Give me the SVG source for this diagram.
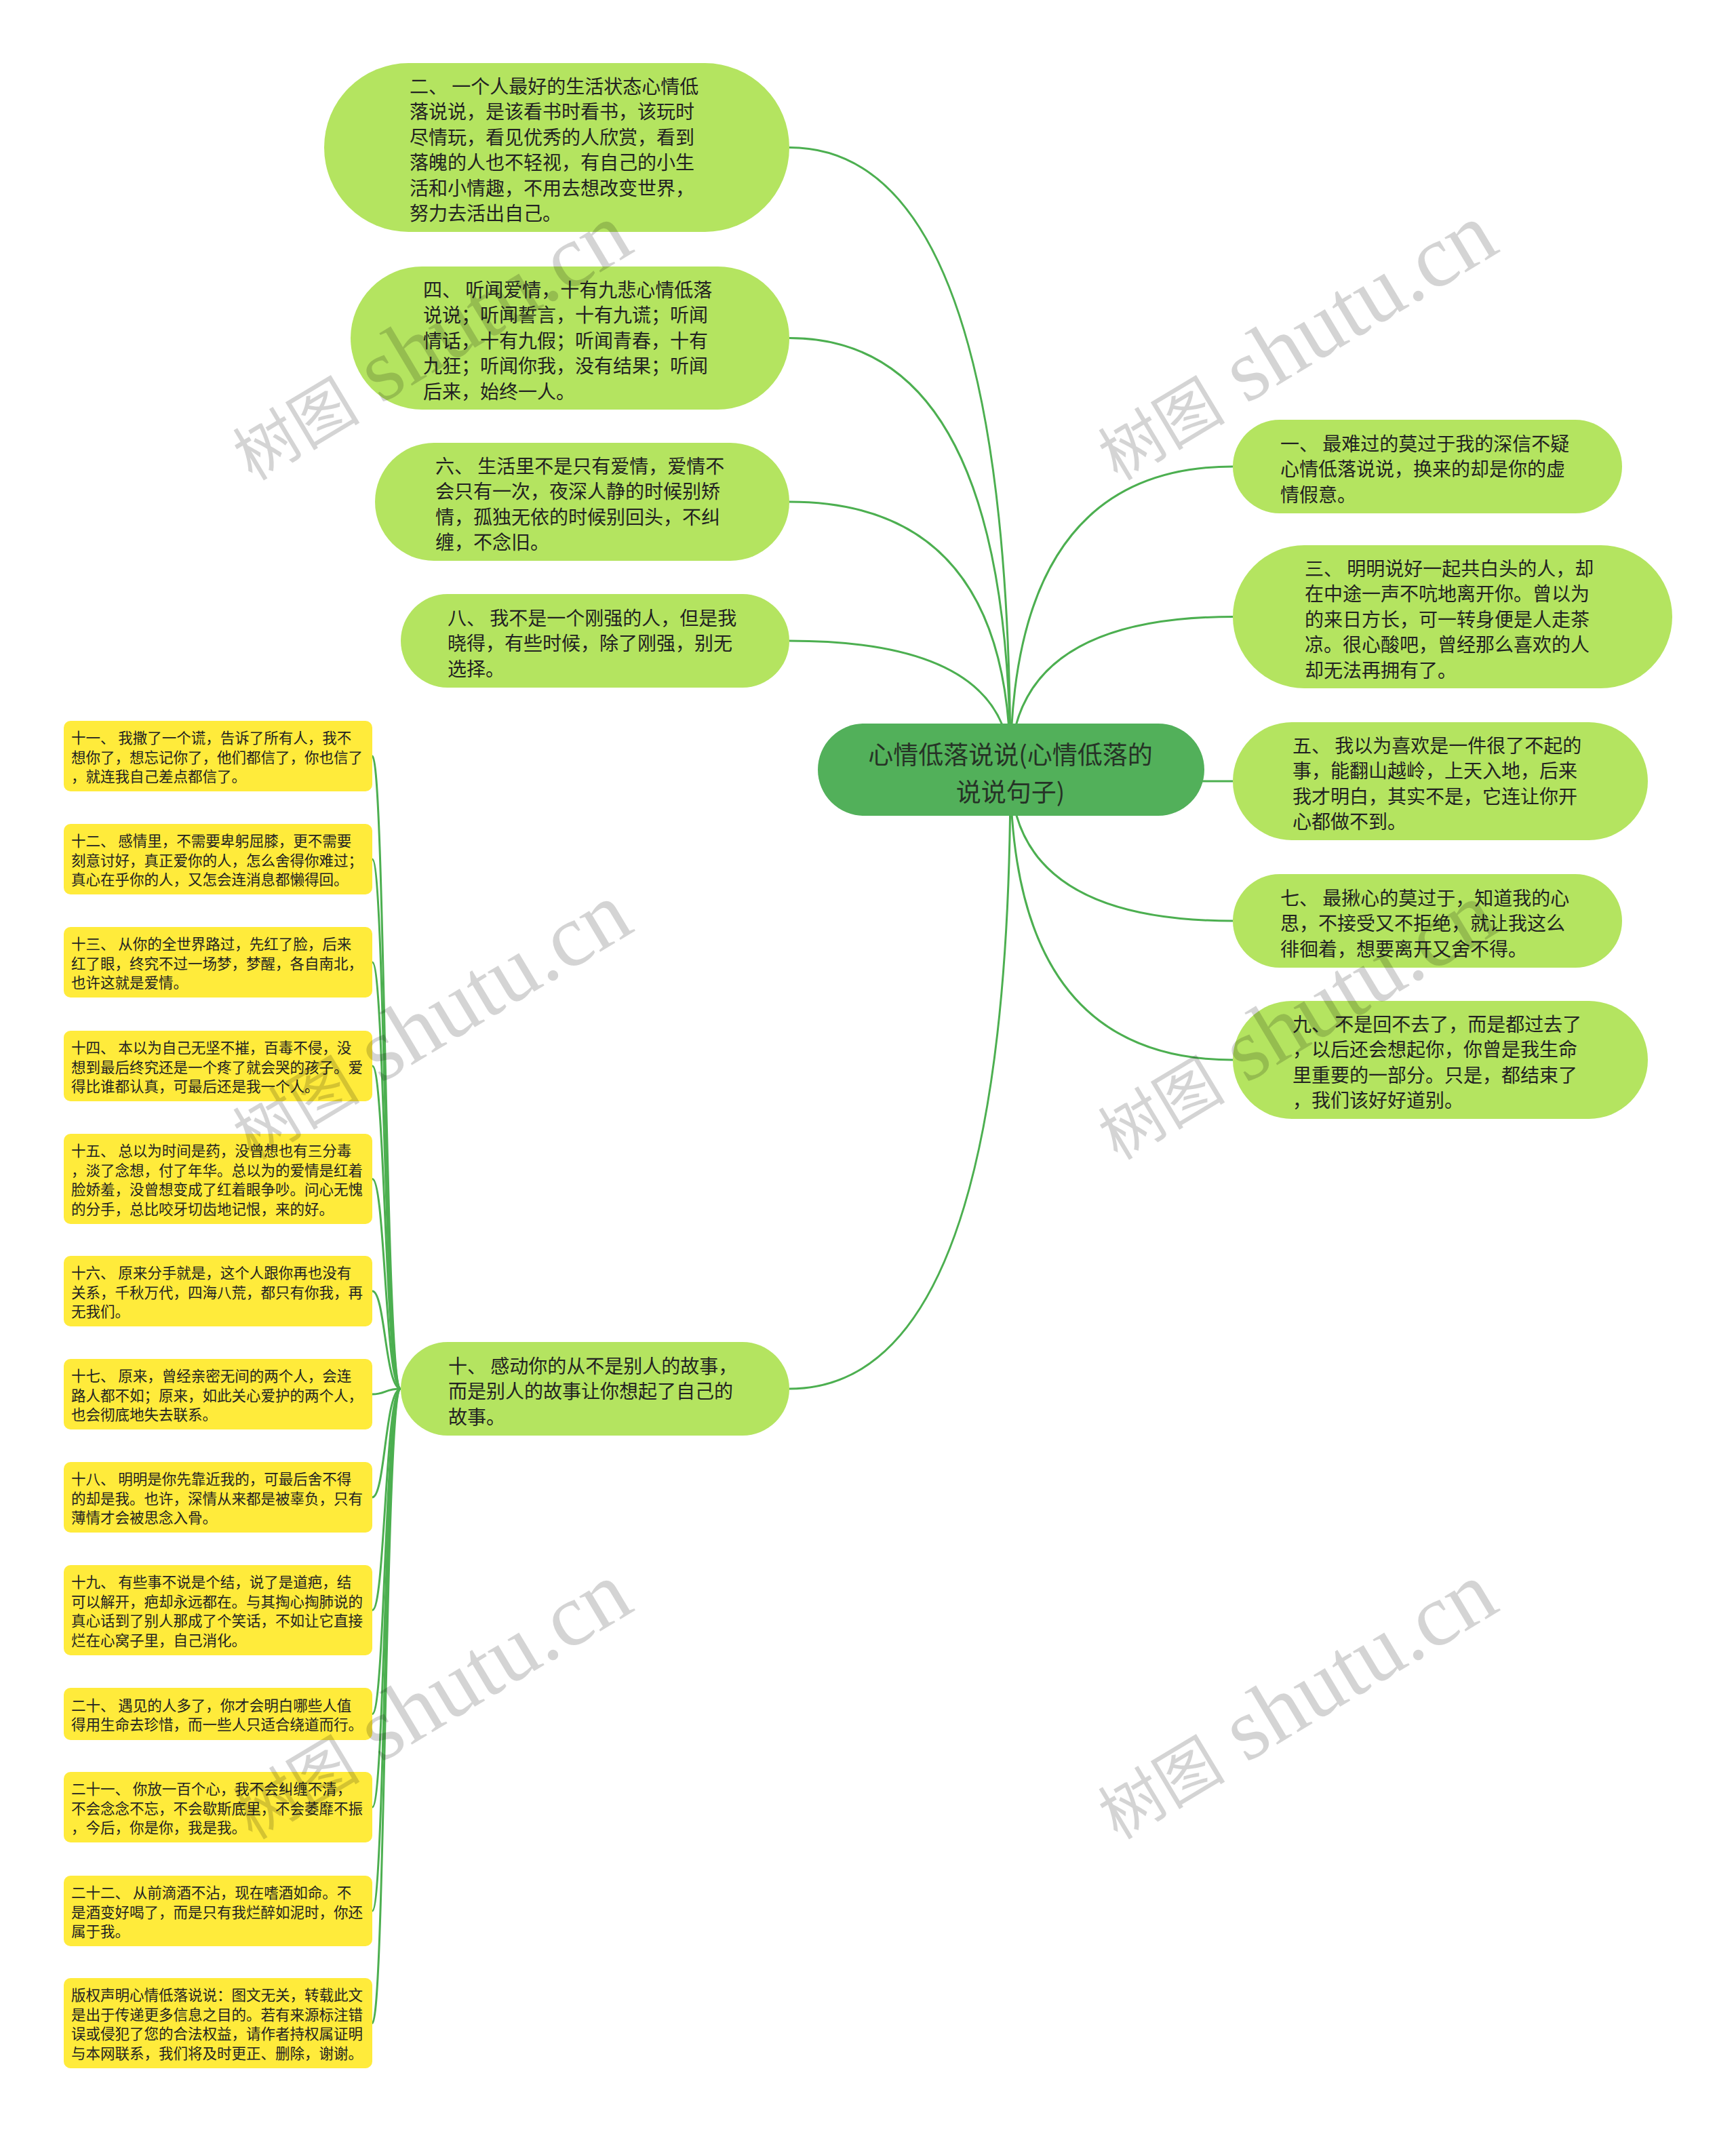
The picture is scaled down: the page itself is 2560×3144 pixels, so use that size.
<svg xmlns="http://www.w3.org/2000/svg" width="2560" height="3144" viewBox="0 0 2560 3144">
<style>
text{font-family:"Noto Sans CJK SC","Noto Sans",sans-serif;fill:#222}
.g rect{fill:#b4e460}
.g text{font-size:28px}
.y rect{fill:#ffeb3b}
.y text{font-size:21.5px}
.c rect{fill:#52b05a}
.c text{font-size:37px;fill:#263326}
.links path{fill:none;stroke:#4caf50;stroke-width:3}
.wm{fill:#000;fill-opacity:0.17}
.wm .cjk{font-family:"Noto Sans CJK SC",sans-serif;font-size:94px}
.wm .lat{font-family:"Liberation Serif",serif;font-size:131px}
</style>
<rect width="2560" height="3144" fill="#fff"/>
<g id="connectors" class="links">
<path d="M1490 1135 Q1490 217.5 1164 217.5"/>
<path d="M1490 1135 Q1490 498.5 1164 498.5"/>
<path d="M1490 1135 Q1490 740 1164 740"/>
<path d="M1490 1135 Q1490 945 1164 945"/>
<path d="M1490 1135 Q1490 2048 1164 2048"/>
<path d="M1490 1135 Q1490 688 1818 688"/>
<path d="M1490 1135 Q1490 909.5 1818 909.5"/>
<path d="M1490 1135 Q1490 1152 1818 1152"/>
<path d="M1490 1135 Q1490 1358 1818 1358"/>
<path d="M1490 1135 Q1490 1563 1818 1563"/>
<path d="M591 2048 C568 2048 568 1115 549 1115"/>
<path d="M591 2048 C568 2048 568 1267 549 1267"/>
<path d="M591 2048 C568 2048 568 1419 549 1419"/>
<path d="M591 2048 C568 2048 568 1572 549 1572"/>
<path d="M591 2048 C568 2048 568 1738.5 549 1738.5"/>
<path d="M591 2048 C568 2048 568 1904 549 1904"/>
<path d="M591 2048 C568 2048 568 2056 549 2056"/>
<path d="M591 2048 C568 2048 568 2208 549 2208"/>
<path d="M591 2048 C568 2048 568 2374.5 549 2374.5"/>
<path d="M591 2048 C568 2048 568 2527.5 549 2527.5"/>
<path d="M591 2048 C568 2048 568 2665 549 2665"/>
<path d="M591 2048 C568 2048 568 2818 549 2818"/>
<path d="M591 2048 C568 2048 568 2983.5 549 2983.5"/>
</g>
<g id="root" class="c">
<rect x="1206" y="1067" width="570" height="136" rx="68"/>
<text text-anchor="middle"><tspan x="1490" y="1127">心情低落说说(心情低落的</tspan><tspan x="1490" y="1182">说说句子)</tspan></text>
</g>
<g id="n2" class="g">
<rect x="478" y="93" width="686" height="249" rx="124.5"/>
<text><tspan x="604" y="137.75">二、 一个人最好的生活状态心情低</tspan><tspan x="604" y="175.25">落说说，是该看书时看书，该玩时</tspan><tspan x="604" y="212.75">尽情玩，看见优秀的人欣赏，看到</tspan><tspan x="604" y="250.25">落魄的人也不轻视，有自己的小生</tspan><tspan x="604" y="287.75">活和小情趣，不用去想改变世界，</tspan><tspan x="604" y="325.25">努力去活出自己。</tspan></text>
</g>
<g id="n4" class="g">
<rect x="517" y="393" width="647" height="211" rx="105.5"/>
<text><tspan x="624" y="437.5">四、 听闻爱情，十有九悲心情低落</tspan><tspan x="624" y="475">说说；听闻誓言，十有九谎；听闻</tspan><tspan x="624" y="512.5">情话，十有九假；听闻青春，十有</tspan><tspan x="624" y="550">九狂；听闻你我，没有结果；听闻</tspan><tspan x="624" y="587.5">后来，始终一人。</tspan></text>
</g>
<g id="n6" class="g">
<rect x="553" y="653" width="611" height="174" rx="87"/>
<text><tspan x="642" y="697.75">六、 生活里不是只有爱情，爱情不</tspan><tspan x="642" y="735.25">会只有一次，夜深人静的时候别矫</tspan><tspan x="642" y="772.75">情，孤独无依的时候别回头，不纠</tspan><tspan x="642" y="810.25">缠，不念旧。</tspan></text>
</g>
<g id="n8" class="g">
<rect x="591" y="876" width="573" height="138" rx="69"/>
<text><tspan x="660" y="921.5">八、 我不是一个刚强的人，但是我</tspan><tspan x="660" y="959">晓得，有些时候，除了刚强，别无</tspan><tspan x="660" y="996.5">选择。</tspan></text>
</g>
<g id="n10" class="g">
<rect x="591" y="1979" width="573" height="138" rx="69"/>
<text><tspan x="661" y="2024.5">十、 感动你的从不是别人的故事，</tspan><tspan x="661" y="2062">而是别人的故事让你想起了自己的</tspan><tspan x="661" y="2099.5">故事。</tspan></text>
</g>
<g id="n1" class="g">
<rect x="1818" y="619" width="574" height="138" rx="69"/>
<text><tspan x="1888" y="664.5">一、 最难过的莫过于我的深信不疑</tspan><tspan x="1888" y="702">心情低落说说，换来的却是你的虚</tspan><tspan x="1888" y="739.5">情假意。</tspan></text>
</g>
<g id="n3" class="g">
<rect x="1818" y="804" width="648" height="211" rx="105.5"/>
<text><tspan x="1924" y="848.5">三、 明明说好一起共白头的人，却</tspan><tspan x="1924" y="886">在中途一声不吭地离开你。曾以为</tspan><tspan x="1924" y="923.5">的来日方长，可一转身便是人走茶</tspan><tspan x="1924" y="961">凉。很心酸吧，曾经那么喜欢的人</tspan><tspan x="1924" y="998.5">却无法再拥有了。</tspan></text>
</g>
<g id="n5" class="g">
<rect x="1818" y="1065" width="612" height="174" rx="87"/>
<text><tspan x="1906" y="1109.75">五、 我以为喜欢是一件很了不起的</tspan><tspan x="1906" y="1147.25">事，能翻山越岭，上天入地，后来</tspan><tspan x="1906" y="1184.75">我才明白，其实不是，它连让你开</tspan><tspan x="1906" y="1222.25">心都做不到。</tspan></text>
</g>
<g id="n7" class="g">
<rect x="1818" y="1289" width="574" height="138" rx="69"/>
<text><tspan x="1888" y="1334.5">七、 最揪心的莫过于，知道我的心</tspan><tspan x="1888" y="1372">思，不接受又不拒绝，就让我这么</tspan><tspan x="1888" y="1409.5">徘徊着，想要离开又舍不得。</tspan></text>
</g>
<g id="n9" class="g">
<rect x="1818" y="1476" width="612" height="174" rx="87"/>
<text><tspan x="1906" y="1520.75">九、 不是回不去了，而是都过去了</tspan><tspan x="1906" y="1558.25">，以后还会想起你，你曾是我生命</tspan><tspan x="1906" y="1595.75">里重要的一部分。只是，都结束了</tspan><tspan x="1906" y="1633.25">，我们该好好道别。</tspan></text>
</g>
<g id="n11" class="y">
<rect x="94" y="1063" width="455" height="104" rx="10"/>
<text><tspan x="105" y="1096">十一、 我撒了一个谎，告诉了所有人，我不</tspan><tspan x="105" y="1124.5">想你了，想忘记你了，他们都信了，你也信了</tspan><tspan x="105" y="1153">，就连我自己差点都信了。</tspan></text>
</g>
<g id="n12" class="y">
<rect x="94" y="1215" width="455" height="104" rx="10"/>
<text><tspan x="105" y="1248">十二、 感情里，不需要卑躬屈膝，更不需要</tspan><tspan x="105" y="1276.5">刻意讨好，真正爱你的人，怎么舍得你难过；</tspan><tspan x="105" y="1305">真心在乎你的人，又怎会连消息都懒得回。</tspan></text>
</g>
<g id="n13" class="y">
<rect x="94" y="1367" width="455" height="104" rx="10"/>
<text><tspan x="105" y="1400">十三、 从你的全世界路过，先红了脸，后来</tspan><tspan x="105" y="1428.5">红了眼，终究不过一场梦，梦醒，各自南北，</tspan><tspan x="105" y="1457">也许这就是爱情。</tspan></text>
</g>
<g id="n14" class="y">
<rect x="94" y="1520" width="455" height="104" rx="10"/>
<text><tspan x="105" y="1553">十四、 本以为自己无坚不摧，百毒不侵，没</tspan><tspan x="105" y="1581.5">想到最后终究还是一个疼了就会哭的孩子。爱</tspan><tspan x="105" y="1610">得比谁都认真，可最后还是我一个人。</tspan></text>
</g>
<g id="n15" class="y">
<rect x="94" y="1672" width="455" height="133" rx="10"/>
<text><tspan x="105" y="1705.25">十五、 总以为时间是药，没曾想也有三分毒</tspan><tspan x="105" y="1733.75">，淡了念想，付了年华。总以为的爱情是红着</tspan><tspan x="105" y="1762.25">脸娇羞，没曾想变成了红着眼争吵。问心无愧</tspan><tspan x="105" y="1790.75">的分手，总比咬牙切齿地记恨，来的好。</tspan></text>
</g>
<g id="n16" class="y">
<rect x="94" y="1852" width="455" height="104" rx="10"/>
<text><tspan x="105" y="1885">十六、 原来分手就是，这个人跟你再也没有</tspan><tspan x="105" y="1913.5">关系，千秋万代，四海八荒，都只有你我，再</tspan><tspan x="105" y="1942">无我们。</tspan></text>
</g>
<g id="n17" class="y">
<rect x="94" y="2004" width="455" height="104" rx="10"/>
<text><tspan x="105" y="2037">十七、 原来，曾经亲密无间的两个人，会连</tspan><tspan x="105" y="2065.5">路人都不如；原来，如此关心爱护的两个人，</tspan><tspan x="105" y="2094">也会彻底地失去联系。</tspan></text>
</g>
<g id="n18" class="y">
<rect x="94" y="2156" width="455" height="104" rx="10"/>
<text><tspan x="105" y="2189">十八、 明明是你先靠近我的，可最后舍不得</tspan><tspan x="105" y="2217.5">的却是我。也许，深情从来都是被辜负，只有</tspan><tspan x="105" y="2246">薄情才会被思念入骨。</tspan></text>
</g>
<g id="n19" class="y">
<rect x="94" y="2308" width="455" height="133" rx="10"/>
<text><tspan x="105" y="2341.25">十九、 有些事不说是个结，说了是道疤，结</tspan><tspan x="105" y="2369.75">可以解开，疤却永远都在。与其掏心掏肺说的</tspan><tspan x="105" y="2398.25">真心话到了别人那成了个笑话，不如让它直接</tspan><tspan x="105" y="2426.75">烂在心窝子里，自己消化。</tspan></text>
</g>
<g id="n20" class="y">
<rect x="94" y="2489" width="455" height="77" rx="10"/>
<text><tspan x="105" y="2522.75">二十、 遇见的人多了，你才会明白哪些人值</tspan><tspan x="105" y="2551.25">得用生命去珍惜，而一些人只适合绕道而行。</tspan></text>
</g>
<g id="n21" class="y">
<rect x="94" y="2613" width="455" height="104" rx="10"/>
<text><tspan x="105" y="2646">二十一、 你放一百个心，我不会纠缠不清，</tspan><tspan x="105" y="2674.5">不会念念不忘，不会歇斯底里，不会萎靡不振</tspan><tspan x="105" y="2703">，今后，你是你，我是我。</tspan></text>
</g>
<g id="n22" class="y">
<rect x="94" y="2766" width="455" height="104" rx="10"/>
<text><tspan x="105" y="2799">二十二、 从前滴酒不沾，现在嗜酒如命。不</tspan><tspan x="105" y="2827.5">是酒变好喝了，而是只有我烂醉如泥时，你还</tspan><tspan x="105" y="2856">属于我。</tspan></text>
</g>
<g id="copyright" class="y">
<rect x="94" y="2917" width="455" height="133" rx="10"/>
<text><tspan x="105" y="2950.25">版权声明心情低落说说：图文无关，转载此文</tspan><tspan x="105" y="2978.75">是出于传递更多信息之目的。若有来源标注错</tspan><tspan x="105" y="3007.25">误或侵犯了您的合法权益，请作者持权属证明</tspan><tspan x="105" y="3035.75">与本网联系，我们将及时更正、删除，谢谢。</tspan></text>
</g>
<g id="watermarks" class="wm">
<text class="wm" transform="rotate(-31 372 710)" x="372" y="710"><tspan class="cjk">树图</tspan><tspan class="lat"> shutu.cn</tspan></text>
<text class="wm" transform="rotate(-31 1648 710)" x="1648" y="710"><tspan class="cjk">树图</tspan><tspan class="lat"> shutu.cn</tspan></text>
<text class="wm" transform="rotate(-31 372 1712)" x="372" y="1712"><tspan class="cjk">树图</tspan><tspan class="lat"> shutu.cn</tspan></text>
<text class="wm" transform="rotate(-31 1648 1712)" x="1648" y="1712"><tspan class="cjk">树图</tspan><tspan class="lat"> shutu.cn</tspan></text>
<text class="wm" transform="rotate(-31 372 2714)" x="372" y="2714"><tspan class="cjk">树图</tspan><tspan class="lat"> shutu.cn</tspan></text>
<text class="wm" transform="rotate(-31 1648 2714)" x="1648" y="2714"><tspan class="cjk">树图</tspan><tspan class="lat"> shutu.cn</tspan></text>
</g>
</svg>
